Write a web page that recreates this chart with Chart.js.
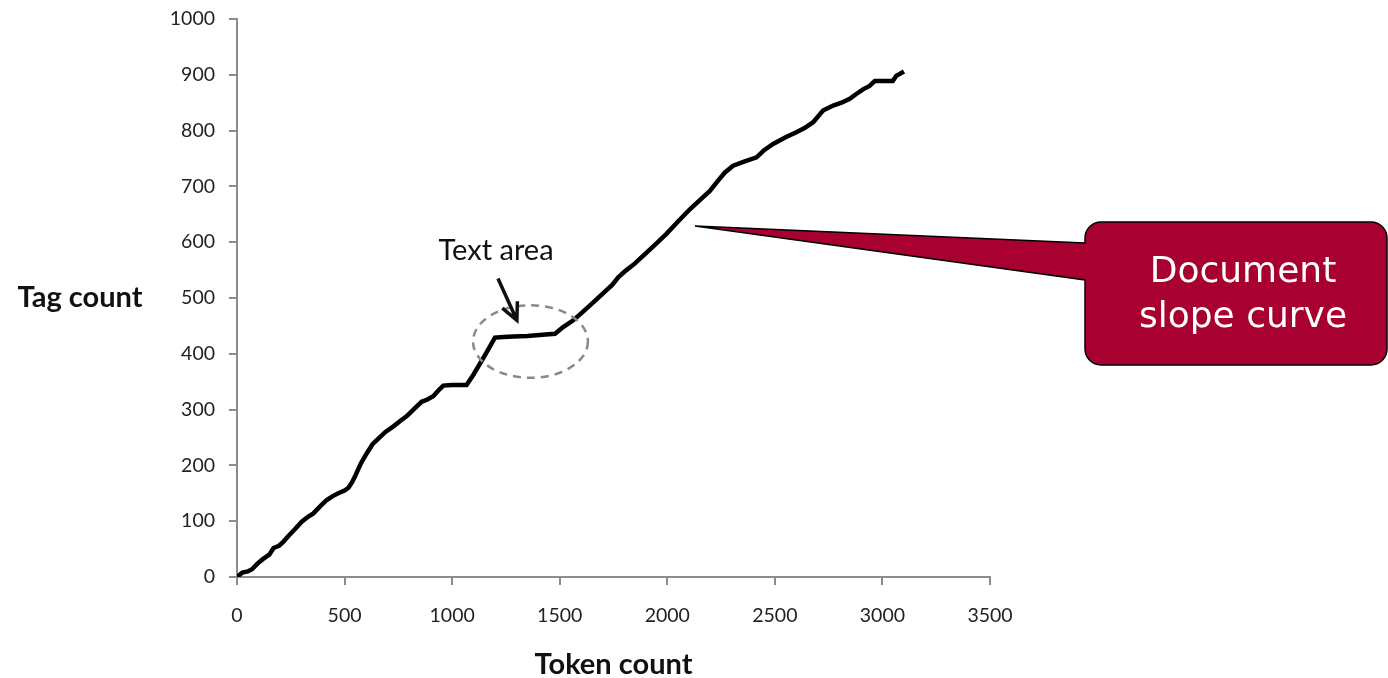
<!DOCTYPE html>
<html>
<head>
<meta charset="utf-8">
<script src="https://cdn.jsdelivr.net/npm/chart.js@4/dist/chart.umd.min.js"></script>
<style>
  html, body { margin: 0; padding: 0; background: #fff; }
  #wrap { width: 1388px; height: 678px; position: relative; }
</style>
</head>
<body>
<div id="wrap"><canvas id="slope"></canvas></div>
<script>
// Token count (x) / Tag count (y)
const tokenCounts = [0, 25, 50, 70, 95, 120, 150, 170, 195, 215, 240, 270, 301, 330, 355, 385, 417, 445, 471, 500,
  518, 535, 548, 575, 602, 630, 657, 690, 727, 760, 788, 820, 858, 885, 912, 940, 959, 1000, 1067, 1098,
  1150, 1199, 1240, 1284, 1350, 1420, 1478, 1516, 1563, 1610, 1656, 1700, 1745, 1772, 1810, 1850, 1872, 1900,
  1950, 1996, 2050, 2105, 2150, 2198, 2235, 2268, 2306, 2360, 2415, 2450, 2492, 2550, 2600, 2640, 2678, 2724,
  2771, 2810, 2848, 2880, 2910, 2940, 2965, 3010, 3048, 3064, 3100];
const tagCounts = [0, 8, 10, 14, 24, 32, 40, 52, 56, 63, 74, 86, 99, 108, 114, 126, 138, 145, 150, 155,
  160, 170, 180, 203, 221, 238, 248, 260, 270, 280, 288, 300, 314, 318, 324, 336, 343, 344, 344, 362,
  396, 429, 430, 431, 432, 434, 436, 448, 460, 476, 492, 508, 524, 537, 550, 562, 570, 580,
  598, 615, 637, 659, 675, 692, 710, 725, 737, 745, 752, 765, 776, 788, 797, 805, 815, 836,
  845, 850, 857, 866, 874, 880, 889, 889, 889, 898, 906];

const xTicks = [0, 500, 1000, 1500, 2000, 2500, 3000, 3500];
const yTicks = [0, 100, 200, 300, 400, 500, 600, 700, 800, 900, 1000];

const xTitle = 'Token count';
const yTitle = 'Tag count';
const noteText = 'Text area';
const calloutLines = ['Document', 'slope curve'];

const points = tokenCounts.map((t, i) => ({ x: t, y: tagCounts[i] }));

const axisGray = '#8c8c8c';
const tickFont = { family: 'Lato, sans-serif', size: 19.5 };

// 注釈・軸タイトル描画
const annotations = {
  id: 'annotations',
  afterDraw(chart) {
    const ctx = chart.ctx;
    const xs = chart.scales.x;
    const ys = chart.scales.y;
    const px = v => xs.getPixelForValue(v);
    const py = v => ys.getPixelForValue(v);

    ctx.save();

    // axis titles
    ctx.fillStyle = '#111';
    ctx.font = 'bold 29px Lato, sans-serif';
    ctx.textAlign = 'center';
    ctx.textBaseline = 'middle';
    ctx.fillText(yTitle, 80, 298);
    ctx.fillText(xTitle, (xs.left + xs.right) / 2, 665);

    // dashed ellipse around the flat part
    ctx.strokeStyle = '#8a8a8a';
    ctx.lineWidth = 2.5;
    ctx.setLineDash([8, 6]);
    ctx.beginPath();
    const cx = px(1364), cy = py(422);
    ctx.ellipse(cx, cy, px(1364 + 267) - cx, cy - py(422 + 65), 0, 0, Math.PI * 2);
    ctx.stroke();
    ctx.setLineDash([]);

    // arrow
    const ax0 = px(1213), ay0 = py(535);
    const ax1 = px(1301), ay1 = py(460);
    ctx.strokeStyle = '#111';
    ctx.lineWidth = 3.5;
    ctx.beginPath();
    ctx.moveTo(ax0, ay0);
    ctx.lineTo(ax1, ay1);
    const ang = Math.atan2(ay1 - ay0, ax1 - ax0);
    const hl = 19;
    ctx.moveTo(ax1 - hl * Math.cos(ang - 0.45), ay1 - hl * Math.sin(ang - 0.45));
    ctx.lineTo(ax1, ay1);
    ctx.lineTo(ax1 - hl * Math.cos(ang + 0.45), ay1 - hl * Math.sin(ang + 0.45));
    ctx.stroke();

    // "Text area"
    ctx.fillStyle = '#111';
    ctx.font = '29px Lato, sans-serif';
    ctx.fillText(noteText, px(1204), py(584));

    // callout box with tail
    const tipX = px(2129), tipY = py(629);
    const left = 1085, right = 1387, top = 222, bottom = 365, r = 16;
    const tailTop = 243, tailBottom = 280;
    ctx.beginPath();
    ctx.moveTo(left, tailTop);
    ctx.lineTo(left, top + r);
    ctx.arcTo(left, top, left + r, top, r);
    ctx.lineTo(right - r, top);
    ctx.arcTo(right, top, right, top + r, r);
    ctx.lineTo(right, bottom - r);
    ctx.arcTo(right, bottom, right - r, bottom, r);
    ctx.lineTo(left + r, bottom);
    ctx.arcTo(left, bottom, left, bottom - r, r);
    ctx.lineTo(left, tailBottom);
    ctx.lineTo(tipX, tipY);
    ctx.closePath();
    ctx.fillStyle = '#a80030';
    ctx.fill();
    ctx.strokeStyle = '#000';
    ctx.lineWidth = 1.5;
    ctx.stroke();

    ctx.fillStyle = '#fff';
    ctx.font = '36px "DejaVu Sans", sans-serif';
    ctx.fillText(calloutLines[0], 1243, 273);
    ctx.fillText(calloutLines[1], 1243, 318);

    ctx.restore();
  }
};

new Chart(document.getElementById('slope'), {
  type: 'line',
  data: {
    datasets: [{
      label: yTitle,
      data: points,
      borderColor: '#000',
      borderWidth: 4.5,
      pointRadius: 0,
      tension: 0,
      fill: false
    }]
  },
  options: {
    responsive: true,
    maintainAspectRatio: false,
    animation: false,
    layout: { padding: { left: 0, right: 398, top: 19, bottom: 0 } },
    plugins: { legend: { display: false }, tooltip: { enabled: false } },
    scales: {
      x: {
        type: 'linear',
        min: 0,
        max: 3500,
        afterFit(scale) { scale.height = 101; scale.paddingLeft = 0; scale.paddingRight = 0; },
        afterBuildTicks(scale) { scale.ticks = xTicks.map(v => ({ value: v })); },
        border: { color: axisGray, width: 2 },
        grid: { drawOnChartArea: false, drawTicks: true, tickLength: 8, color: axisGray, lineWidth: 2 },
        ticks: { font: tickFont, color: '#222', padding: 19, maxRotation: 0, callback: v => String(v) }
      },
      y: {
        min: 0,
        max: 1000,
        afterFit(scale) { scale.width = 237; scale.paddingTop = 0; scale.paddingBottom = 0; },
        afterBuildTicks(scale) { scale.ticks = yTicks.map(v => ({ value: v })); },
        border: { color: axisGray, width: 2 },
        grid: { drawOnChartArea: false, drawTicks: true, tickLength: 8, color: axisGray, lineWidth: 2 },
        ticks: { font: tickFont, color: '#222', padding: 14, callback: v => String(v) }
      }
    }
  },
  plugins: [annotations]
});
</script>
</body>
</html>
